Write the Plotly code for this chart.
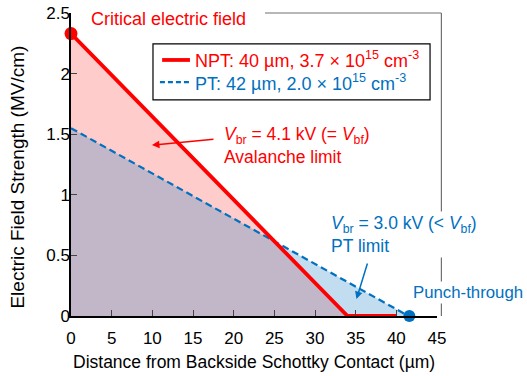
import plotly.graph_objects as go

# Data
npt_x = [0, 34, 40]
npt_y = [2.33, 0, 0]
pt_x = [0, 41.5]
pt_y = [1.55, 0]
crit_pt = (0, 2.33)
punch_pt = (41.6, 0)
x_ticks = [0, 5, 10, 15, 20, 25, 30, 35, 40, 45]
y_ticks = [0, 0.5, 1, 1.5, 2, 2.5]
y_ticklabels = ["0", "0.5", "1", "1.5", "2", "2.5"]

RED = "#FF0000"
BLUE = "#0070C0"
FONT = "Liberation Sans, Arial, sans-serif"

fig = go.Figure()
# fills
fig.add_trace(go.Scatter(x=npt_x[:2], y=npt_y[:2], mode="none", fill="tozeroy",
                         fillcolor="rgba(255,0,0,0.2)", showlegend=False, hoverinfo="skip"))
fig.add_trace(go.Scatter(x=pt_x, y=pt_y, mode="none", fill="tozeroy",
                         fillcolor="rgba(0,112,192,0.24)", showlegend=False, hoverinfo="skip"))
# lines
fig.add_trace(go.Scatter(x=pt_x, y=pt_y, mode="lines",
                         line=dict(color=BLUE, width=2.2, dash="7px,4px"), showlegend=False))
fig.add_trace(go.Scatter(x=npt_x, y=npt_y, mode="lines",
                         line=dict(color=RED, width=3.8), showlegend=False))
# markers
fig.add_trace(go.Scatter(x=[crit_pt[0]], y=[crit_pt[1]], mode="markers",
                         marker=dict(color=RED, size=13), cliponaxis=False, showlegend=False))
fig.add_trace(go.Scatter(x=[punch_pt[0]], y=[punch_pt[1]], mode="markers",
                         marker=dict(color=BLUE, size=12), cliponaxis=False, showlegend=False))

shapes = [
    # outer frame (top and right)
    dict(type="line", xref="paper", yref="paper", x0=0.530, x1=1.012, y0=1, y1=1,
         line=dict(color="#707070", width=1.2)),
    dict(type="line", xref="paper", yref="paper", x0=1.012, x1=1.012, y0=0, y1=1,
         line=dict(color="#707070", width=1.2)),
    # legend box
    dict(type="rect", xref="paper", yref="paper", x0=0.224, x1=0.981, y0=0.713, y1=0.898,
         line=dict(color="black", width=1.2), fillcolor="white"),
    dict(type="line", xref="paper", yref="paper", x0=0.249, x1=0.325, y0=0.845, y1=0.845,
         line=dict(color=RED, width=3.8)),
    dict(type="line", xref="paper", yref="paper", x0=0.243, x1=0.325, y0=0.772, y1=0.772,
         line=dict(color=BLUE, width=2.2, dash="5px,3px")),
]

ann = [
    dict(xref="paper", yref="paper", x=0.333, y=0.845, xanchor="left", yanchor="middle",
         text="NPT: 40 µm, 3.7 × 10<sup>15</sup> cm<sup>-3</sup>", showarrow=False,
         font=dict(color=RED, size=18, family=FONT)),
    dict(xref="paper", yref="paper", x=0.333, y=0.772, xanchor="left", yanchor="middle",
         text="PT: 42 µm, 2.0 × 10<sup>15</sup> cm<sup>-3</sup>", showarrow=False,
         font=dict(color=BLUE, size=18, family=FONT)),
    dict(x=2.2, y=2.45, xanchor="left", yanchor="middle", text="Critical electric field",
         showarrow=False, font=dict(color=RED, size=18, family=FONT)),
    dict(x=18.55, y=1.41, xanchor="left", yanchor="middle", align="left",
         text="<i>V</i><sub>br</sub> = 4.1 kV (= <i>V</i><sub>bf</sub>)<br>Avalanche limit",
         showarrow=False, font=dict(color=RED, size=17.5, family=FONT)),
    dict(x=9.95, y=1.41, ax=17.7, ay=1.46, axref="x", ayref="y", text="", showarrow=True,
         arrowhead=2, arrowsize=1, arrowwidth=1.5, arrowcolor=RED),
    dict(x=31.75, y=0.672, xanchor="left", yanchor="middle", align="left",
         text="<i>V</i><sub>br</sub> = 3.0 kV (< <i>V</i><sub>bf</sub>)<br>PT limit",
         showarrow=False, bgcolor="white", font=dict(color=BLUE, size=17.5, family=FONT)),
    dict(x=35.1, y=0.14, ax=36.5, ay=0.445, axref="x", ayref="y", text="", showarrow=True,
         arrowhead=2, arrowsize=1, arrowwidth=1.5, arrowcolor=BLUE),
    dict(x=41.75, y=0.19, xanchor="left", yanchor="middle", text="Punch-through",
         showarrow=False, bgcolor="white", font=dict(color=BLUE, size=16.8, family=FONT)),
    # axis titles
    dict(xref="paper", yref="paper", x=0.5, y=-0.152, xanchor="center", yanchor="middle",
         text="Distance from Backside Schottky Contact (µm)", showarrow=False,
         font=dict(size=17.5, family=FONT, color="black")),
    dict(xref="paper", yref="paper", x=-0.145, y=0.46, xanchor="center", yanchor="middle",
         text="Electric Field Strength (MV/cm)", showarrow=False, textangle=-90,
         font=dict(size=19, family=FONT, color="black")),
]

fig.update_layout(
    width=527, height=376,
    margin=dict(l=71, r=90, t=13, b=60),
    paper_bgcolor="white", plot_bgcolor="white",
    font=dict(family=FONT, size=17, color="black"),
    shapes=shapes, annotations=ann, showlegend=False,
)
fig.update_xaxes(range=[0, 45], tickvals=x_ticks, ticks="inside", ticklen=6, tickwidth=1.2,
                 showline=True, linecolor="black", linewidth=1.5, showgrid=False, zeroline=False,
                 automargin=False, tickfont=dict(size=17), ticklabelstandoff=6,
                 ticklabeloverflow="allow")
fig.update_yaxes(range=[0, 2.5], tickvals=y_ticks, ticktext=y_ticklabels, ticks="inside", ticklen=6,
                 tickwidth=1.2, showline=True, linecolor="black", linewidth=1.5, showgrid=False,
                 zeroline=False, automargin=False, tickfont=dict(size=17), ticklabelstandoff=-4,
                 ticklabeloverflow="allow")

fig.write_html("out.html", config={"displayModeBar": False},
               post_script="document.body.style.margin='0';")
